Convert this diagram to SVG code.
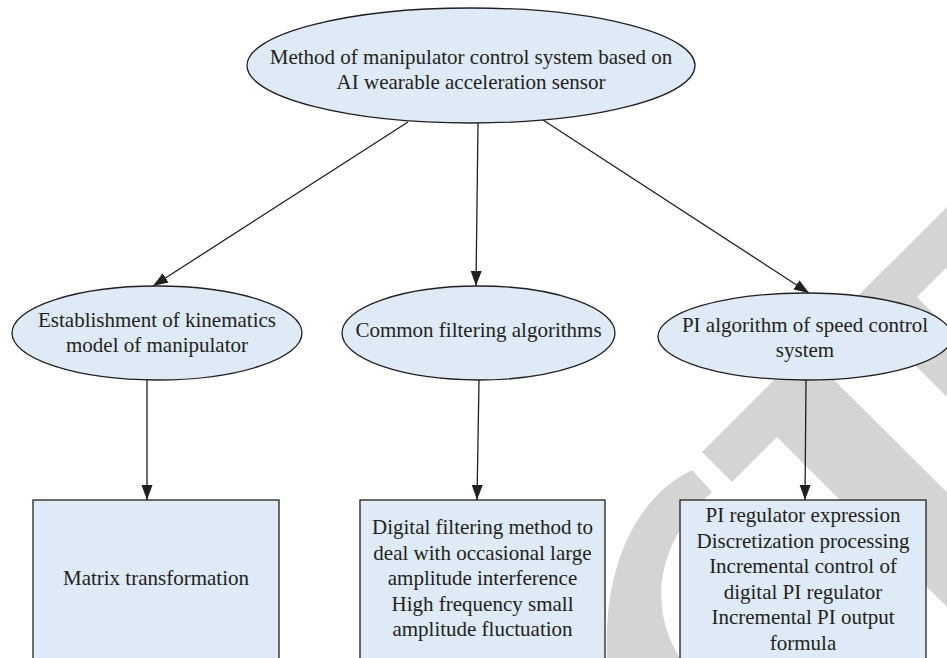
<svg xmlns="http://www.w3.org/2000/svg" width="947" height="658" viewBox="0 0 947 658">
<style>
.bg{fill:#ffffff}
.wm{fill:#d4d4d4}
.node{fill:#deeaf5;stroke:#231f20;stroke-width:1.3}
.lbl{font-family:'Liberation Serif','Tinos','DejaVu Serif',serif;font-size:21px;fill:#231f20;text-anchor:middle}
.edge{stroke:#231f20;stroke-width:1.3;fill:none;marker-end:url(#arr)}
</style>
<defs>
<marker id="arr" markerUnits="userSpaceOnUse" markerWidth="16" markerHeight="12" refX="15" refY="5.5" orient="auto">
<path d="M0,0 L15,5.5 L0,11 Z" fill="#231f20"/>
</marker>
</defs>
<rect class="bg" x="0" y="0" width="947" height="658"/>
<g id="watermark">
<polygon class="wm" points="702,452 732,482 1007,207 977,177"/>
<polygon class="wm" points="770,430 827,373 1078,623 1020,680"/>
<polygon class="wm" points="852,302 887,267 1060,440 1025,475"/>
<path class="wm" d="M692,470 C640,495 603,560 607,658 L680,658 C652,615 650,548 712,492 Z"/>
</g>
<g id="connectors">
<line class="edge" x1="408" y1="122" x2="153" y2="286"/>
<line class="edge" x1="478" y1="123" x2="476" y2="286"/>
<line class="edge" x1="543" y1="120" x2="809" y2="293"/>
<line class="edge" x1="147" y1="380" x2="147" y2="500"/>
<line class="edge" x1="479" y1="380" x2="477" y2="500"/>
<line class="edge" x1="806" y1="380" x2="805" y2="500"/>
</g>
<g id="root">
<ellipse class="node" cx="471" cy="65.5" rx="224" ry="57.5"/>
<text class="lbl" x="471" y="64">Method of manipulator control system based on</text>
<text class="lbl" x="471" y="89">AI wearable acceleration sensor</text>
</g>
<g id="kinematics">
<ellipse class="node" cx="157" cy="333" rx="145" ry="47"/>
<text class="lbl" x="157" y="327">Establishment of kinematics</text>
<text class="lbl" x="157" y="352">model of manipulator</text>
</g>
<g id="filtering">
<ellipse class="node" cx="478.5" cy="333" rx="136.5" ry="47"/>
<text class="lbl" x="478.5" y="337">Common filtering algorithms</text>
</g>
<g id="pi">
<ellipse class="node" cx="805" cy="336.5" rx="147" ry="43.5"/>
<text class="lbl" x="805" y="332">PI algorithm of speed control</text>
<text class="lbl" x="805" y="357">system</text>
</g>
<g id="matrix">
<rect class="node" x="33" y="500" width="246" height="170"/>
<text class="lbl" x="156" y="585">Matrix transformation</text>
</g>
<g id="digital">
<rect class="node" x="360" y="500" width="245" height="170"/>
<text class="lbl" x="482.5" y="534">Digital filtering method to</text>
<text class="lbl" x="482.5" y="559.5">deal with occasional large</text>
<text class="lbl" x="482.5" y="585">amplitude interference</text>
<text class="lbl" x="482.5" y="610.5">High frequency small</text>
<text class="lbl" x="482.5" y="636">amplitude fluctuation</text>
</g>
<g id="piblock">
<rect class="node" x="680" y="500" width="246" height="170"/>
<text class="lbl" x="803" y="522">PI regulator expression</text>
<text class="lbl" x="803" y="547.5">Discretization processing</text>
<text class="lbl" x="803" y="573">Incremental control of</text>
<text class="lbl" x="803" y="598.5">digital PI regulator</text>
<text class="lbl" x="803" y="624">Incremental PI output</text>
<text class="lbl" x="803" y="649.5">formula</text>
</g>
</svg>
